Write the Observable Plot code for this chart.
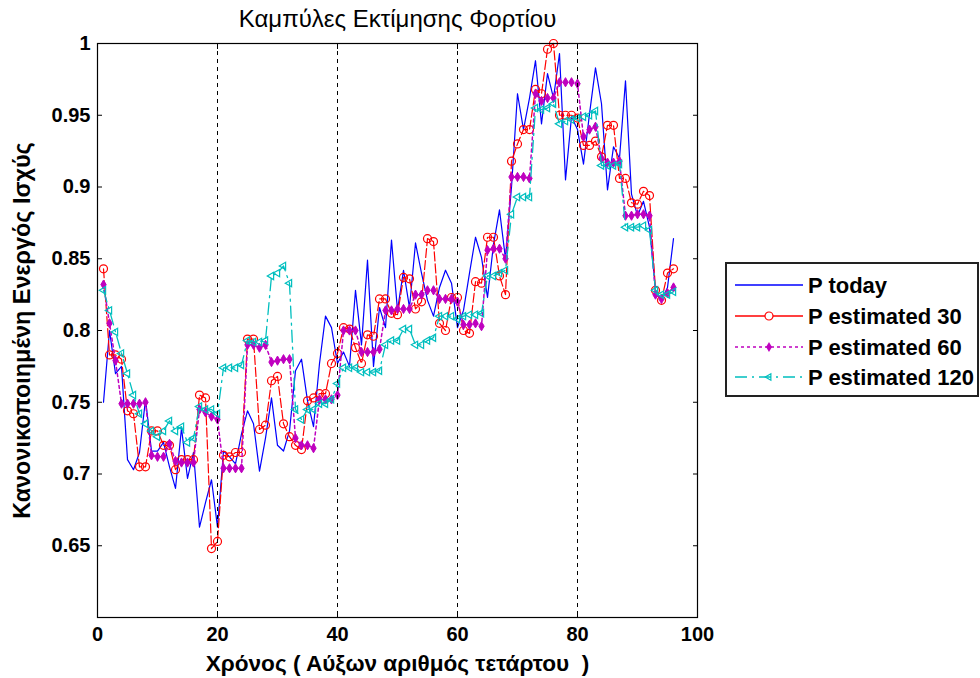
<!DOCTYPE html>
<html>
<head>
<meta charset="utf-8">
<script src="https://cdn.jsdelivr.net/npm/d3@7"></script>
<script src="https://cdn.jsdelivr.net/npm/@observablehq/plot@0.6"></script>
<style>
  html, body { margin: 0; padding: 0; background: #ffffff; }
  #wrap { position: relative; width: 980px; height: 678px; background: #ffffff; overflow: hidden; }
  #chart { position: absolute; left: 0; top: 0; }
  #legend { position: absolute; left: 725px; top: 262px; }
</style>
</head>
<body>
<div id="wrap"><div id="chart"></div><div id="legend"></div></div>
<script>
const titleText = "Καμπύλες Εκτίμησης Φορτίου";
const xLabel = "Χρόνος ( Αύξων αριθμός τετάρτου  )";
const yLabel = "Κανονικοποιημένη Ενεργός Ισχύς";
const seriesNames = ["P today", "P estimated 30", "P estimated 60", "P estimated 120"];

const quarter = d3.range(1, 97);

const pToday = [
  0.750, 0.800, 0.770, 0.775, 0.710, 0.703, 0.715, 0.752, 0.716, 0.716,
  0.722, 0.705, 0.690, 0.732, 0.697, 0.715, 0.663, 0.680, 0.696, 0.663,
  0.716, 0.712, 0.707, 0.728, 0.744, 0.735, 0.702, 0.725, 0.753, 0.720,
  0.716, 0.730, 0.772, 0.780, 0.751, 0.733, 0.777, 0.810, 0.802, 0.777,
  0.785, 0.775, 0.828, 0.790, 0.849, 0.775, 0.816, 0.802, 0.863, 0.814,
  0.842, 0.816, 0.861, 0.840, 0.821, 0.810, 0.830, 0.842, 0.833, 0.802,
  0.814, 0.840, 0.865, 0.851, 0.823, 0.860, 0.884, 0.850, 0.900, 0.965,
  0.940, 0.962, 0.988, 0.944, 0.979, 0.962, 0.993, 0.905, 0.949, 0.940,
  0.916, 0.951, 0.983, 0.958, 0.898, 0.928, 0.920, 0.974, 0.895, 0.880,
  0.890, 0.872, 0.828, 0.821, 0.830, 0.864
];

const pEst30 = [
  0.843, 0.783, 0.783, 0.780, 0.744, 0.742, 0.705, 0.705, 0.730, 0.730,
  0.720, 0.720, 0.703, 0.710, 0.710, 0.710, 0.755, 0.753, 0.648, 0.653,
  0.713, 0.712, 0.715, 0.715, 0.794, 0.794, 0.731, 0.734, 0.765, 0.768,
  0.735, 0.726, 0.720, 0.717, 0.751, 0.753, 0.756, 0.756, 0.777, 0.784,
  0.802, 0.801, 0.788, 0.777, 0.797, 0.796, 0.822, 0.822, 0.812, 0.811,
  0.837, 0.836, 0.815, 0.820, 0.864, 0.862, 0.805, 0.800, 0.823, 0.823,
  0.800, 0.798, 0.834, 0.833, 0.865, 0.865, 0.838, 0.825, 0.918, 0.930,
  0.940, 0.940, 0.968, 0.965, 0.996, 1.000, 0.950, 0.950, 0.950, 0.948,
  0.929, 0.929, 0.932, 0.921, 0.943, 0.943, 0.906, 0.906, 0.889, 0.888,
  0.897, 0.894, 0.828, 0.821, 0.840, 0.843
];

const pEst60 = [
  0.832, 0.805, 0.779, 0.749, 0.749, 0.749, 0.749, 0.750, 0.713, 0.712,
  0.712, 0.721, 0.709, 0.708, 0.708, 0.708, 0.745, 0.743, 0.740, 0.738,
  0.704, 0.704, 0.704, 0.704, 0.790, 0.790, 0.788, 0.790, 0.778, 0.779,
  0.780, 0.780, 0.725, 0.720, 0.720, 0.718, 0.752, 0.752, 0.752, 0.755,
  0.800, 0.800, 0.800, 0.785, 0.785, 0.785, 0.787, 0.814, 0.814, 0.815,
  0.815, 0.815, 0.825, 0.825, 0.828, 0.828, 0.822, 0.822, 0.822, 0.820,
  0.804, 0.804, 0.805, 0.803, 0.856, 0.857, 0.857, 0.850, 0.907, 0.907,
  0.907, 0.906, 0.965, 0.960, 0.962, 0.962, 0.973, 0.973, 0.973, 0.972,
  0.935, 0.940, 0.942, 0.920, 0.917, 0.917, 0.918, 0.880, 0.880, 0.881,
  0.881, 0.880, 0.825, 0.822, 0.826, 0.830
];

const pEst120 = [
  0.828, 0.814, 0.799, 0.784, 0.770, 0.755, 0.742, 0.735, 0.730, 0.726,
  0.730, 0.737, 0.730, 0.733, 0.722, 0.725, 0.747, 0.745, 0.745, 0.742,
  0.774, 0.774, 0.774, 0.776, 0.793, 0.792, 0.792, 0.793, 0.838, 0.840,
  0.845, 0.833, 0.745, 0.738, 0.745, 0.745, 0.749, 0.749, 0.752, 0.763,
  0.774, 0.774, 0.774, 0.771, 0.771, 0.771, 0.772, 0.790, 0.793, 0.793,
  0.801, 0.801, 0.790, 0.790, 0.793, 0.795, 0.810, 0.810, 0.810, 0.808,
  0.810, 0.811, 0.811, 0.812, 0.838, 0.838, 0.840, 0.842, 0.881, 0.893,
  0.893, 0.893, 0.955, 0.954, 0.955, 0.958, 0.944, 0.946, 0.947, 0.948,
  0.949, 0.950, 0.953, 0.915, 0.915, 0.915, 0.916, 0.872, 0.872, 0.872,
  0.873, 0.870, 0.828, 0.825, 0.825, 0.827
];

const xTicks = [0, 20, 40, 60, 80, 100];
const yTicks = [0.6, 0.65, 0.7, 0.75, 0.8, 0.85, 0.9, 0.95, 1];
const yTickLabels = [0.65, 0.7, 0.75, 0.8, 0.85, 0.9, 0.95, 1];
const dividers = [20, 40, 60, 80];

const colors = ["#0000ff", "#ff0000", "#bf00bf", "#00bfbf"];
const dashes = [null, "9,3", "3,3", "12,5,2,5"];

const font = "'Liberation Sans', Arial, sans-serif";

const chart = Plot.plot({
  width: 720,
  height: 678,
  marginLeft: 97,
  marginRight: 23,
  marginTop: 43,
  marginBottom: 61,
  x: {domain: [0, 100]},
  y: {domain: [0.6, 1]},
  style: {fontFamily: font, fontSize: "20px", fontWeight: "bold", background: "#ffffff", color: "#000000", overflow: "visible"},
  marks: [
    Plot.axisX(xTicks, {anchor: "bottom", tickSize: 0, tickPadding: 9, label: null, tickFormat: d => String(d), fontSize: 20, fontWeight: "bold"}),
    Plot.axisY(yTickLabels, {anchor: "left", tickSize: 0, tickPadding: 7, label: null, tickFormat: d => String(d), fontSize: 20, fontWeight: "bold"}),
    Plot.axisX(xTicks, {anchor: "bottom", tickSize: 5, dy: -5, label: null, tickFormat: () => ""}),
    Plot.axisX(xTicks, {anchor: "top", tickSize: 5, dy: 5, label: null, tickFormat: () => ""}),
    Plot.axisY(yTicks, {anchor: "left", tickSize: 5, dx: 5, label: null, tickFormat: () => ""}),
    Plot.axisY(yTicks, {anchor: "right", tickSize: 5, dx: -5, label: null, tickFormat: () => ""}),

    Plot.line(quarter, {x: d => d, y: (d, i) => pToday[i], stroke: colors[0], strokeWidth: 1.2}),

    Plot.line(quarter, {x: d => d, y: (d, i) => pEst30[i], stroke: colors[1], strokeWidth: 1.2, strokeDasharray: dashes[1]}),
    Plot.dot(quarter, {x: d => d, y: (d, i) => pEst30[i], r: 4, symbol: "circle", stroke: colors[1], fill: "none", strokeWidth: 1.2}),

    Plot.line(quarter, {x: d => d, y: (d, i) => pEst60[i], stroke: colors[2], strokeWidth: 1.5, strokeDasharray: dashes[2]}),
    Plot.dot(quarter, {x: d => d, y: (d, i) => pEst60[i], r: 2.8, symbol: "diamond", fill: colors[2], stroke: colors[2], strokeWidth: 1}),

    Plot.line(quarter, {x: d => d, y: (d, i) => pEst120[i], stroke: colors[3], strokeWidth: 1.3, strokeDasharray: dashes[3]}),
    Plot.dot(quarter, {x: d => d, y: (d, i) => pEst120[i], r: 3.5, symbol: "triangle2", rotate: -90, stroke: colors[3], fill: "none", strokeWidth: 1.2}),

    Plot.ruleX(dividers, {stroke: "#000000", strokeWidth: 1, strokeDasharray: "4,4"}),

    Plot.frame({stroke: "#000000", strokeWidth: 1.2}),

    Plot.text([titleText], {frameAnchor: "top", dy: -24, fontSize: 24, fontWeight: "normal", fill: "#000000", lineAnchor: "middle", textAnchor: "middle"}),
    Plot.text([xLabel], {frameAnchor: "bottom", dy: 46, fontSize: 22.6, fontWeight: "bold", fill: "#000000", lineAnchor: "middle", textAnchor: "middle"}),
    Plot.text([yLabel], {frameAnchor: "left", dx: -75, rotate: -90, fontSize: 23.4, fontWeight: "bold", fill: "#000000", lineAnchor: "middle", textAnchor: "middle"})
  ]
});
document.getElementById("chart").appendChild(chart);

// Legend
const lw = 254, lh = 135;
const leg = d3.select("#legend").append("svg")
  .attr("width", lw).attr("height", lh)
  .style("font-family", font);
leg.append("rect").attr("x", 1).attr("y", 1).attr("width", lw - 2).attr("height", lh - 2)
  .attr("fill", "#ffffff").attr("stroke", "#222222").attr("stroke-width", 2);
const rowY = [23, 54, 85, 115];
seriesNames.forEach((name, i) => {
  const g = leg.append("g").attr("transform", `translate(0,${rowY[i]})`);
  g.append("line").attr("x1", 10).attr("x2", 78).attr("y1", 0).attr("y2", 0)
    .attr("stroke", colors[i]).attr("stroke-width", 1.3)
    .attr("stroke-dasharray", i === 1 ? null : dashes[i]);
  if (i === 1) {
    g.append("circle").attr("cx", 44).attr("cy", 0).attr("r", 4).attr("fill", "#ffffff").attr("stroke", colors[i]).attr("stroke-width", 1.2);
  } else if (i === 2) {
    g.append("path").attr("d", d3.symbol(d3.symbolDiamond, 30)()).attr("transform", "translate(44,0)").attr("fill", colors[i]);
  } else if (i === 3) {
    g.append("path").attr("d", d3.symbol(d3.symbolTriangle2, 30)()).attr("transform", "translate(44,0) rotate(-90)").attr("fill", "none").attr("stroke", colors[i]).attr("stroke-width", 1.2);
  }
  g.append("text").attr("x", 83).attr("y", 8).attr("font-size", 22).attr("font-weight", "bold").attr("fill", "#000000").text(name);
});
</script>
</body>
</html>
